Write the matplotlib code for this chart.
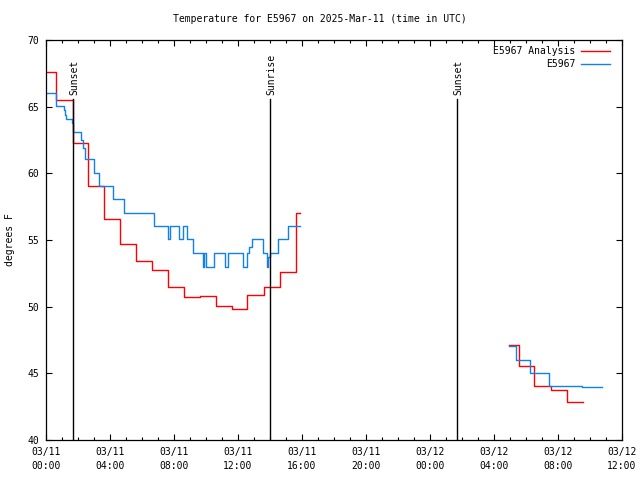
import matplotlib
matplotlib.use("Agg")
import matplotlib.pyplot as plt
import matplotlib.dates as mdates
import pandas as pd

# ---- data -------------------------------------------------------------
analysis_times_1 = ["03-11 00:00", "03-11 00:37", "03-11 01:40", "03-11 02:37",
                    "03-11 03:37", "03-11 04:37", "03-11 05:37", "03-11 06:37",
                    "03-11 07:37", "03-11 08:37", "03-11 09:37", "03-11 10:37",
                    "03-11 11:37", "03-11 12:35", "03-11 13:37", "03-11 14:37",
                    "03-11 15:37", "03-11 15:51"]
analysis_vals_1 = [67.6, 65.5, 62.3, 59.05, 56.55, 54.7, 53.4, 52.75, 51.5,
                   50.7, 50.8, 50.05, 49.8, 50.85, 51.5, 52.6, 57.0, 57.0]

analysis_times_2 = ["03-12 04:56", "03-12 05:35", "03-12 06:31", "03-12 07:34",
                    "03-12 08:35", "03-12 09:33"]
analysis_vals_2 = [47.15, 45.55, 44.05, 43.75, 42.85, 42.85]

obs_times_1 = ["03-11 00:00", "03-11 00:36", "03-11 01:06", "03-11 01:11",
               "03-11 01:15", "03-11 01:39", "03-11 01:42", "03-11 02:11",
               "03-11 02:17", "03-11 02:27", "03-11 02:59", "03-11 03:19",
               "03-11 04:12", "03-11 04:54", "03-11 06:46", "03-11 07:36",
               "03-11 07:45", "03-11 08:20", "03-11 08:35", "03-11 08:50",
               "03-11 09:12", "03-11 09:47", "03-11 09:53", "03-11 10:00",
               "03-11 10:31", "03-11 11:11", "03-11 11:24", "03-11 12:18",
               "03-11 12:33", "03-11 12:42", "03-11 12:51", "03-11 13:35",
               "03-11 13:48", "03-11 13:54", "03-11 14:00", "03-11 14:31",
               "03-11 15:07", "03-11 15:51"]
obs_vals_1 = [66.05, 65.05, 64.75, 64.4, 64.05, 63.75, 63.1, 62.5, 61.9, 61.05,
              60.0, 59.05, 58.05, 57.0, 56.05, 55.05, 56.05, 55.05, 56.05, 55.05,
              54.0, 53.0, 54.0, 53.0, 54.0, 53.0, 54.0, 53.0, 54.0, 54.5, 55.05,
              54.0, 53.0, 53.75, 54.0, 55.05, 56.05, 56.05]

obs_times_2 = ["03-12 04:56", "03-12 05:21", "03-12 06:14", "03-12 07:25",
               "03-12 09:29", "03-12 10:44"]
obs_vals_2 = [47.05, 45.97, 45.0, 44.02, 43.95, 43.95]

event_times = ["03-11 01:41", "03-11 14:00", "03-12 01:41"]
event_labels = ["Sunset", "Sunrise", "Sunset"]

station = "E5967"
title = "Temperature for E5967 on 2025-Mar-11 (time in UTC)"
ylabel = "degrees F"


def to_dt(lst):
    return pd.to_datetime(["2025-" + s for s in lst])


# ---- style ------------------------------------------------------------
FONT = "DejaVu Sans Mono"
FS = 7.0
RED = "#ff0000"
BLUE = "#1080f0"

fig = plt.figure(figsize=(6.4, 4.8), dpi=100)
ax = fig.add_axes([46 / 640, 40 / 480, 576 / 640, 400 / 480])

ax.plot(to_dt(analysis_times_1), analysis_vals_1, drawstyle="steps-post",
        color=RED, lw=1.0, label=station + " Analysis")
ax.plot(to_dt(analysis_times_2), analysis_vals_2, drawstyle="steps-post",
        color=RED, lw=1.0)
ax.plot(to_dt(obs_times_1), obs_vals_1, drawstyle="steps-post",
        color=BLUE, lw=1.0, label=station)
ax.plot(to_dt(obs_times_2), obs_vals_2, drawstyle="steps-post",
        color=BLUE, lw=1.0)

for t, lab in zip(to_dt(event_times), event_labels):
    ax.plot([t, t], [40, 65.6], color="black", lw=1.0)
    ax.text(t + pd.Timedelta(minutes=4), 65.9, lab, rotation=90, ha="center",
            va="bottom", fontsize=FS, family=FONT)

ax.set_xlim(pd.Timestamp("2025-03-11 00:00"), pd.Timestamp("2025-03-12 12:00"))
ax.set_ylim(40, 70)
ax.set_yticks([40, 45, 50, 55, 60, 65, 70])

ax.xaxis.set_major_locator(mdates.HourLocator(byhour=range(0, 24, 4)))
ax.xaxis.set_minor_locator(mdates.HourLocator())
ax.xaxis.set_major_formatter(mdates.DateFormatter("%m/%d\n%H:%M"))

ax.tick_params(which="both", direction="in", top=True, right=True,
               labelsize=FS, width=0.8, colors="black")
ax.tick_params(which="major", length=4.5)
ax.tick_params(which="minor", length=2.2)
ax.tick_params(axis="x", pad=5)
ax.tick_params(axis="y", pad=5)
for lab in ax.get_xticklabels() + ax.get_yticklabels():
    lab.set_family(FONT)
    lab.set_linespacing(1.55)
for sp in ax.spines.values():
    sp.set_linewidth(0.9)

leg = ax.legend(loc="upper right", bbox_to_anchor=(0.979, 0.985),
                frameon=False, markerfirst=False,
                prop={"family": FONT, "size": FS}, handlelength=3.0,
                handletextpad=0.55, labelspacing=0.3, borderaxespad=0.0,
                borderpad=0.0)

fig.text(0.5, 1 - 19 / 480, title, ha="center", va="center",
         fontsize=FS, family=FONT)
fig.text(10 / 640, 240 / 480, ylabel, rotation=90, ha="center", va="center",
         fontsize=FS, family=FONT)

fig.savefig("out.png", dpi=100)
